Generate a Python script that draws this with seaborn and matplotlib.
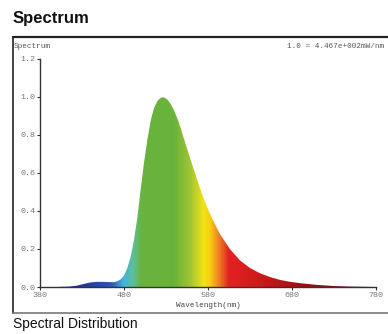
import numpy as np
import pandas as pd
import matplotlib
matplotlib.use("Agg")
import matplotlib.pyplot as plt
from matplotlib.colors import LinearSegmentedColormap
from matplotlib.lines import Line2D
import seaborn as sns

# Spectrum values (relative intensity)
wavelength = [380, 400, 415, 425, 432, 440, 448, 455, 462, 468, 472, 476, 480, 484,
              488, 492, 496, 500, 504, 508, 512, 516, 520, 524, 528, 532, 536, 540,
              545, 550, 555, 560, 566, 572, 578, 585, 594, 606, 618, 630, 642, 654,
              666, 678, 690, 710, 730, 750, 780]
intensity = [0.0, 0.0, 0.002, 0.008, 0.016, 0.024, 0.027, 0.027, 0.026, 0.025, 0.03,
             0.04, 0.06, 0.1, 0.16, 0.25, 0.37, 0.52, 0.66, 0.78, 0.88, 0.945, 0.98,
             0.997, 0.998, 0.985, 0.96, 0.925, 0.87, 0.8, 0.73, 0.66, 0.58, 0.5, 0.43,
             0.36, 0.28, 0.2, 0.14, 0.1, 0.072, 0.052, 0.037, 0.027, 0.02, 0.011,
             0.005, 0.002, 0.0]
x_ticks = [380, 480, 580, 680, 780]
y_ticks = [0.0, 0.2, 0.4, 0.6, 0.8, 1.0, 1.2]

# wavelength -> colour stops for the fill
color_nm = [380, 430, 465, 478, 490, 500, 540, 560, 575, 582, 592, 605, 640, 690, 780]
color_hex = ["#18277a", "#22359a", "#2c58ae", "#3fb2e2", "#5cbf9c", "#68b43e",
             "#6ab33a", "#a6c632", "#f2e414", "#f8d010", "#f08a22", "#e22222",
             "#d01a1a", "#9e1212", "#5c0808"]

df = pd.DataFrame({"Wavelength": wavelength, "Intensity": intensity})

sns.set_style("white")
mono = ["Liberation Mono", "DejaVu Sans Mono"]
narrow = ["Liberation Sans Narrow", "Liberation Sans", "DejaVu Sans"]

fig = plt.figure(figsize=(3.88, 3.34), dpi=100)
ax = fig.add_axes([40 / 388, 1 - 287 / 334, 336 / 388, 228 / 334])

sns.lineplot(data=df, x="Wavelength", y="Intensity", ax=ax, linewidth=0, color="white")
poly = ax.fill_between(df["Wavelength"], df["Intensity"], 0, color="none", linewidth=0)

stops = [(w - 380) / 400 for w in color_nm]
cmap = LinearSegmentedColormap.from_list("spec", list(zip(stops, color_hex)))
grad = np.linspace(0, 1, 400).reshape(1, -1)
img = ax.imshow(grad, cmap=cmap, aspect="auto", extent=[380, 780, 0, 1.2],
                origin="lower", zorder=1)
path = poly.get_paths()[0]
img.set_clip_path(path, transform=ax.transData)

ax.set_xlim(380, 780)
ax.set_ylim(0, 1.2)
ax.set_xticks(x_ticks)
ax.set_yticks(y_ticks)
ax.set_yticklabels([f"{v:.1f}" for v in y_ticks])
for lab in ax.get_xticklabels() + ax.get_yticklabels():
    lab.set_family(mono)
    lab.set_fontsize(6)
    lab.set_color("#6f7a6f")
ax.tick_params(axis="both", length=2, width=0.8, color="#333333", pad=1.5,
               direction="out", bottom=True, left=True)
ax.set_xlabel("Wavelength(nm)", family=mono, fontsize=5.5, color="#444444", labelpad=2)
ax.set_ylabel("")
for s in ["top", "right"]:
    ax.spines[s].set_visible(False)
for s in ["left", "bottom"]:
    ax.spines[s].set_color("#333333")
    ax.spines[s].set_linewidth(1.0)

# outer panel texts and frame
fig.text(13 / 388, 1 - 19 / 334, "Spectrum", family=narrow, fontsize=12,
         fontweight="bold", va="center", ha="left", color="#111111")
fig.text(14 / 388, 1 - 47 / 334, "Spectrum", family=mono, fontsize=5.5,
         va="center", ha="left", color="#555555")
fig.text(287 / 388, 1 - 47 / 334, "1.0 = 4.467e+002mW/nm", family=mono, fontsize=5.5,
         va="center", ha="left", color="#555555")
fig.text(13 / 388, 1 - 324 / 334, "Spectral Distribution", family=narrow, fontsize=10,
         va="center", ha="left", color="#111111")

fig.add_artist(Line2D([13 / 388, 1.0], [1 - 37 / 334] * 2, color="#222222", lw=1.6))
fig.add_artist(Line2D([13 / 388] * 2, [1 - 37 / 334, 1 - 313 / 334], color="#222222", lw=1.2))
fig.add_artist(Line2D([13 / 388, 1.0], [1 - 313 / 334] * 2, color="#777777", lw=1.2))

fig.savefig("out.png", dpi=100)
